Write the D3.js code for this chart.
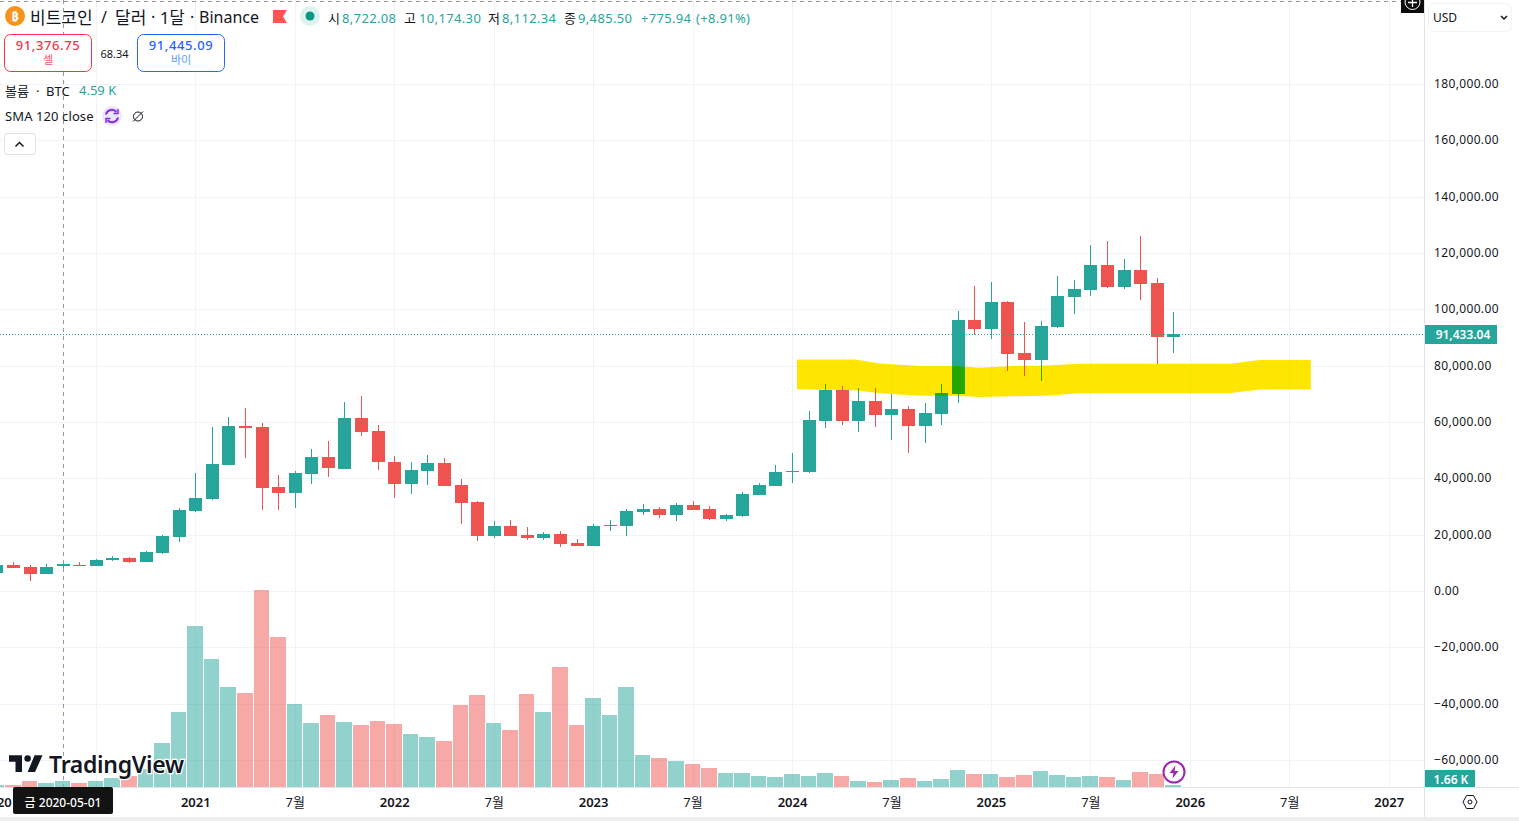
<!DOCTYPE html>
<html>
<head>
<meta charset="utf-8">
<script src="https://cdn.jsdelivr.net/npm/d3@7"></script>
<style>
  html, body { margin: 0; padding: 0; background: #fff; overflow: hidden; }
  svg { display: block; }
  text { font-family: "Noto Sans", "Noto Sans CJK KR", sans-serif; fill: #131722; }
  .band { mix-blend-mode: darken; }
</style>
</head>
<body>
<svg id="chart"></svg>
<script>
// monthly candles, jan 2020 to dec 2025
var opens = [6500, 9340, 8630, 6150, 8722, 9300, 9000, 11100, 11800, 10400, 13600, 19300,
  28500, 32700, 44800, 58600, 58300, 37000, 34900, 41600, 47600, 43400, 61500, 56900,
  45900, 37900, 42550, 45400, 37600, 31600, 19500, 23050, 19850, 18800, 20200, 17000,
  16000, 23050, 23050, 28000, 29100, 26950, 30500, 29100, 25500, 26600, 34000, 37200,
  42200, 42200, 60300, 71300, 60300, 67400, 62400, 64500, 58500, 62800, 69900, 96100,
  92900, 102500, 84400, 81900, 93600, 104300, 106700, 115600, 107800, 113800, 109200, 90100];
var highs = [9500, 10400, 9340, 9700, 10174, 10400, 11450, 12450, 12100, 14100, 19900, 29600,
  41900, 58400, 61600, 65000, 59700, 41300, 42700, 50500, 53300, 67200, 69300, 59100,
  47900, 45800, 48200, 47300, 39900, 32000, 24700, 25200, 22800, 20900, 21400, 18400,
  23900, 25250, 29200, 31000, 29850, 31400, 31800, 30100, 27300, 35200, 38400, 44700,
  49000, 63800, 73500, 72700, 71900, 71900, 70000, 65600, 66700, 73600, 99300, 108300,
  109600, 102800, 95400, 95700, 111800, 110400, 122900, 124300, 117700, 126200, 111000, 99000];
var lows = [6500, 8270, 3660, 6150, 8112, 8900, 8950, 10600, 9900, 10400, 13200, 17500,
  28100, 32200, 44800, 47100, 28800, 28800, 29600, 38000, 40500, 43400, 54900, 43000,
  33000, 34400, 37500, 37200, 23800, 17700, 18800, 19500, 18200, 18200, 15500, 16000,
  16000, 21400, 19600, 26900, 25800, 24800, 28700, 25200, 24900, 26200, 34000, 37200,
  38400, 41900, 57900, 58800, 56500, 58400, 53500, 49000, 52500, 58800, 66700, 90900,
  89400, 78100, 76500, 74500, 93200, 98200, 104900, 107400, 107200, 103400, 80600, 84600];
var closes = [9340, 8270, 6150, 8630, 9485, 9000, 11100, 11800, 10400, 13950, 19600, 28850,
  33100, 45150, 58600, 57900, 36600, 34900, 42000, 47600, 43700, 61500, 56500, 45900,
  38100, 42900, 45400, 37200, 31200, 19500, 23050, 19500, 18800, 20200, 16700, 16000,
  23050, 23300, 28400, 29100, 26950, 30500, 28700, 25500, 26950, 34400, 37600, 42200,
  42550, 60600, 71300, 60300, 67400, 62400, 64500, 58500, 63100, 70200, 96100, 92900,
  102500, 84000, 81900, 94000, 104600, 107100, 115600, 107800, 113800, 108900, 90100, 91200];
// volume in thousands of BTC
var volumes = [1.5, 1.5, 4.6, 3.1, 4.59, 3.1, 4.6, 6.9, 8.4, 13.8, 33.7, 57.4,
  123.2, 97.9, 76.5, 71.9, 150.7, 114.8, 63.5, 49, 55.1, 49.7, 47.4, 50.5,
  48.2, 40.5, 38.3, 35.2, 62.7, 70.4, 49, 43.6, 71.1, 57.4, 91.8, 47.4,
  68.1, 55.1, 76.5, 24.5, 22.2, 19.9, 17.6, 14.5, 10.7, 10.7, 8.4, 7.7,
  9.9, 8.4, 10.7, 8.4, 4.6, 3.8, 5.4, 6.9, 4.6, 6.1, 13, 9.9,
  9.9, 7.7, 9.2, 12.2, 9.2, 7.7, 8.4, 7.7, 5.4, 11.5, 9.9, 1.66];

var priceTicks = [180000, 160000, 140000, 120000, 100000, 80000, 60000, 40000, 20000, 0, -20000, -40000, -60000];
var timeTicks = [0, 6, 12, 18, 24, 30, 36, 42, 48, 54, 60, 66, 72, 78, 84];
// the jul 2020 label sits under the crosshair date, so it stays blank
var timeLabels = ["2020", "", "2021", "7월", "2022", "7월", "2023", "7월", "2024", "7월", "2025", "7월", "2026", "7월", "2027"];

// hand drawn yellow zone, month index and price
var zoneMonths = [48.3, 51.8, 53.3, 55.7, 57.8, 59.3, 61.3, 63.3, 65.3, 74.4, 76.2, 79.3];
var zoneTop = [82200, 82200, 80800, 79900, 79900, 79300, 79900, 80100, 80700, 80700, 82000, 82000];
var zoneBottom = [71600, 71300, 70200, 69300, 69300, 68900, 69100, 69300, 70200, 70200, 71500, 71500];

var lastPrice = 91433.04;
var crosshairMonth = 4;

var green = "#26a69a", red = "#ef5350", gridColor = "#f0f3fa", lineColor = "#e0e3eb";
var width = 1519, height = 821, plotRight = 1424, plotBottom = 787;

var svg = d3.select("#chart").attr("width", width).attr("height", height);

var x = d3.scaleLinear().domain([0, 84]).range([-3.6, 1388.7]);
var y = d3.scaleLinear().domain([-60000, 180000]).range([760, 84]);
var vol = d3.scaleLinear().domain([0, 150.7]).range([plotBottom, 590]);

function px(i) { return Math.round(x(i)); }
function isUp(i) { return closes[i] >= opens[i]; }

svg.append("clipPath").attr("id", "plot").append("rect")
  .attr("width", plotRight).attr("height", plotBottom);

var plot = svg.append("g").attr("clip-path", "url(#plot)");

// grid
plot.selectAll(".hgrid").data(priceTicks).enter().append("rect")
  .attr("x", 0).attr("width", plotRight).attr("height", 1)
  .attr("y", function (d) { return Math.round(y(d)); })
  .attr("fill", gridColor);
plot.selectAll(".vgrid").data(timeTicks).enter().append("rect")
  .attr("y", 0).attr("width", 1).attr("height", plotBottom)
  .attr("x", function (d) { return px(d); })
  .attr("fill", gridColor);

// volume
plot.selectAll(".vol").data(volumes).enter().append("rect")
  .attr("x", function (d, i) { return px(i) - 8; })
  .attr("width", function (d, i) { return px(i + 1) - px(i) - 1; })
  .attr("y", function (d) { return Math.round(vol(d)); })
  .attr("height", function (d) { return plotBottom - Math.round(vol(d)); })
  .attr("fill", function (d, i) { return isUp(i) ? green : red; })
  .attr("fill-opacity", 0.5);

// candles
plot.selectAll(".wick").data(highs).enter().append("rect")
  .attr("x", function (d, i) { return px(i); })
  .attr("width", 1)
  .attr("y", function (d) { return Math.round(y(d)); })
  .attr("height", function (d, i) { return Math.max(1, Math.round(y(lows[i])) - Math.round(y(d))); })
  .attr("fill", function (d, i) { return isUp(i) ? green : red; });
plot.selectAll(".body").data(opens).enter().append("rect")
  .attr("x", function (d, i) { return px(i) - 6; })
  .attr("width", 13)
  .attr("y", function (d, i) { return Math.round(y(Math.max(d, closes[i]))); })
  .attr("height", function (d, i) {
    return Math.max(1, Math.round(y(Math.min(d, closes[i]))) - Math.round(y(Math.max(d, closes[i]))));
  })
  .attr("fill", function (d, i) { return isUp(i) ? green : red; });

// yellow zone goes on top of the candles
var zoneArea = d3.area()
  .x(function (d) { return x(d); })
  .y0(function (d, i) { return y(zoneBottom[i]); })
  .y1(function (d, i) { return y(zoneTop[i]); });
plot.append("path").attr("class", "band").datum(zoneMonths)
  .attr("d", zoneArea).attr("fill", "#ffe600");

// last price line and crosshair
plot.append("line")
  .attr("x1", 0).attr("x2", plotRight)
  .attr("y1", Math.round(y(lastPrice)) + 1.5).attr("y2", Math.round(y(lastPrice)) + 1.5)
  .attr("stroke", green).attr("stroke-dasharray", "1 2");
plot.append("line")
  .attr("x1", px(crosshairMonth) + 0.5).attr("x2", px(crosshairMonth) + 0.5)
  .attr("y1", 0).attr("y2", plotBottom)
  .attr("stroke", "#9598a1").attr("stroke-dasharray", "4 4");
plot.append("line")
  .attr("x1", 0).attr("x2", plotRight).attr("y1", 1.5).attr("y2", 1.5)
  .attr("stroke", "#9598a1").attr("stroke-dasharray", "4 4");

// frame
svg.append("rect").attr("x", plotRight).attr("y", 0).attr("width", 1).attr("height", 817).attr("fill", lineColor);
svg.append("rect").attr("x", 0).attr("y", plotBottom).attr("width", width).attr("height", 1).attr("fill", lineColor);
svg.append("rect").attr("x", 0).attr("y", 817).attr("width", width).attr("height", 4).attr("fill", "#eeeeee");

// price axis
var priceAxis = svg.append("g")
  .attr("transform", "translate(" + plotRight + ",0)")
  .call(d3.axisRight(y).tickValues(priceTicks).tickSize(0).tickFormat(d3.format(",.2f")));
priceAxis.select(".domain").remove();
priceAxis.selectAll("text")
  .attr("x", 10).attr("dy", "0.3em").attr("text-anchor", "start")
  .style("font-family", '"Noto Sans", sans-serif').style("font-size", "12px")
  .style("letter-spacing", "0.35px").style("fill", "#131722");

// time axis
var timeAxis = svg.append("g")
  .attr("transform", "translate(0," + plotBottom + ")")
  .call(d3.axisBottom(x).tickValues(timeTicks).tickSize(0)
    .tickFormat(function (d, i) { return timeLabels[i]; }));
timeAxis.select(".domain").remove();
timeAxis.selectAll("text")
  .attr("y", 11)
  .style("font-family", '"Noto Sans", "Noto Sans CJK KR", sans-serif').style("font-size", "13px")
  .style("font-weight", function (d, i) { return timeLabels[i] === "7월" ? 400 : 600; })
  .style("fill", "#131722");

function label(text, xPos, yPos, size, color, opts) {
  opts = opts || {};
  return svg.append("text").text(text)
    .attr("x", xPos).attr("y", yPos)
    .attr("dominant-baseline", "central")
    .attr("text-anchor", opts.anchor || "start")
    .style("font-size", size + "px")
    .style("font-weight", opts.weight || 400)
    .style("fill", color);
}

// crosshair date
svg.append("rect").attr("x", 13).attr("y", 787).attr("width", 100).attr("height", 27).attr("rx", 2).attr("fill", "#131313");
label("금 2020-05-01", 63, 802, 12, "#fff", { anchor: "middle", weight: 500 });

// price labels on the axis
svg.append("rect").attr("x", 1425).attr("y", 325).attr("width", 72).attr("height", 19).attr("fill", green);
label(d3.format(",.2f")(lastPrice), 1463, 334, 12, "#fff", { anchor: "middle", weight: 600 });
svg.append("rect").attr("x", 1425).attr("y", 770).attr("width", 50).attr("height", 17).attr("fill", green);
label("1.66 K", 1451, 779, 12, "#fff", { anchor: "middle", weight: 600 });

// title row
svg.append("circle").attr("cx", 15).attr("cy", 16).attr("r", 10).attr("fill", "#f7931a");
label("₿", 15, 16, 13, "#fff", { anchor: "middle", weight: 700 });
var titleParts = ["비트코인", "/", "달러", "·", "1달", "·", "Binance"];
var titleX = [30, 101, 115, 151, 160, 190, 199];
var titleSize = [17, 16, 17, 16, 16.5, 16, 16];
titleParts.forEach(function (t, i) {
  label(t, titleX[i], 17, titleSize[i], "#131722");
});
svg.append("path").attr("d", "M273 10H287L283 16.5L287 23H273Z").attr("fill", "#ff5252");
svg.append("circle").attr("cx", 310).attr("cy", 16).attr("r", 10).attr("fill", "#dff2ef");
svg.append("circle").attr("cx", 310).attr("cy", 16).attr("r", 4.5).attr("fill", "#089981");

var ohlcNames = ["시", "고", "저", "종"];
var ohlcText = ["8,722.08", "10,174.30", "8,112.34", "9,485.50"];
var ohlcNameX = [328, 404, 488, 564];
var ohlcValueX = [342, 419, 502, 578];
ohlcNames.forEach(function (n, i) {
  label(n, ohlcNameX[i], 17.5, 13, "#131722");
  label(ohlcText[i], ohlcValueX[i], 17.5, 13, green).style("letter-spacing", "0.35px");
});
label("+775.94", 641, 17.5, 13, green).style("letter-spacing", "0.3px");
label("(+8.91%)", 696, 17.5, 13, green).style("letter-spacing", "0.3px");

// sell / buy boxes
svg.append("rect").attr("x", 4.5).attr("y", 34.5).attr("width", 87).attr("height", 37).attr("rx", 6)
  .attr("fill", "#fff").attr("stroke", "#f23645");
label("91,376.75", 48, 45, 13, "#f23645", { anchor: "middle", weight: 500 }).style("letter-spacing", "0.6px");
label("셀", 48, 59, 11, "#f7525f", { anchor: "middle" });
label("68.34", 114.5, 53, 11, "#131722", { anchor: "middle" });
svg.append("rect").attr("x", 137.5).attr("y", 34.5).attr("width", 87).attr("height", 37).attr("rx", 6)
  .attr("fill", "#fff").attr("stroke", "#2962ff");
label("91,445.09", 181, 45, 13, "#2962ff", { anchor: "middle", weight: 500 }).style("letter-spacing", "0.6px");
label("바이", 181, 59, 11, "#5b9cf6", { anchor: "middle" });

// indicator legend
label("볼륨", 5, 90.5, 13, "#131722");
label("·", 36, 90.5, 13, "#131722");
label("BTC", 46, 90.5, 13, "#131722");
label("4.59 K", 79, 89.5, 13, green);
label("SMA 120 close", 5, 116, 13, "#131722").style("letter-spacing", "0.1px");
svg.append("circle").attr("cx", 112).attr("cy", 116).attr("r", 10).attr("fill", "#ede7f6");
svg.append("path").attr("d", "M106 114.5A6 6 0 0 1 116.5 112M118 117.5A6 6 0 0 1 107.5 120")
  .attr("fill", "none").attr("stroke", "#7e2fff").attr("stroke-width", 2);
svg.append("path").attr("d", "M118 109V113.5H113.5M106 123V118.5H110.5")
  .attr("fill", "none").attr("stroke", "#7e2fff").attr("stroke-width", 1.5);
svg.append("circle").attr("cx", 138).attr("cy", 116.5).attr("r", 4.5)
  .attr("fill", "none").attr("stroke", "#131722");
svg.append("path").attr("d", "M133 121.5L143 111.5").attr("stroke", "#131722");
svg.append("rect").attr("x", 4.5).attr("y", 133.5).attr("width", 31).attr("height", 21).attr("rx", 3)
  .attr("fill", "#fff").attr("stroke", lineColor);
svg.append("path").attr("d", "M15.5 146.5L19.5 142.5L23.5 146.5")
  .attr("fill", "none").attr("stroke", "#131722").attr("stroke-width", 1.5);

// currency selector and plus button
svg.append("rect").attr("x", 1428.5).attr("y", 3.5).attr("width", 83).attr("height", 28).attr("rx", 6)
  .attr("fill", "#fff").attr("stroke", gridColor);
label("USD", 1433, 17.5, 12, "#131722");
svg.append("path").attr("d", "M1501 16L1504 19L1507 16").attr("fill", "none").attr("stroke", "#131722").attr("stroke-width", 1.5);
svg.append("rect").attr("x", 1401).attr("y", 0).attr("width", 23).attr("height", 13).attr("fill", "#0c0c0c");
svg.append("circle").attr("cx", 1412.5).attr("cy", 2).attr("r", 7.5).attr("fill", "none").attr("stroke", "#fff");
svg.append("path").attr("d", "M1412.5 -2V7M1408 2.5H1417").attr("stroke", "#fff").attr("stroke-width", 1.3);

// settings hexagon
svg.append("path").attr("d", "M1463 802L1466.5 795.5H1473.5L1477 802L1473.5 808.5H1466.5Z")
  .attr("fill", "none").attr("stroke", "#131722");
svg.append("circle").attr("cx", 1470).attr("cy", 802).attr("r", 2).attr("fill", "none").attr("stroke", "#131722");

// lightning marker
svg.append("circle").attr("cx", 1174).attr("cy", 772).attr("r", 10.5)
  .attr("fill", "#fff").attr("stroke", "#9c27b0").attr("stroke-width", 2);
svg.append("path").attr("d", "M1175.5 765.5L1169.5 773H1173.5L1172.5 778.5L1178.5 771H1174.5Z").attr("fill", "#9c27b0");

// watermark
var logo = svg.append("g").attr("transform", "translate(9,753.5) scale(0.93)");
logo.append("path").attr("d", "M14 2H0V9H7V20H14ZM28 20H20L27.5 2H36Z").attr("fill", "#131722");
logo.append("circle").attr("cx", 20).attr("cy", 5.5).attr("r", 3.5).attr("fill", "#131722");
label("TradingView", 49, 763.5, 23, "#131722", { weight: 600 })
  .style("stroke", "#fff").style("stroke-width", "2.5px").style("paint-order", "stroke")
  .style("letter-spacing", "-0.3px");
</script>
</body>
</html>
